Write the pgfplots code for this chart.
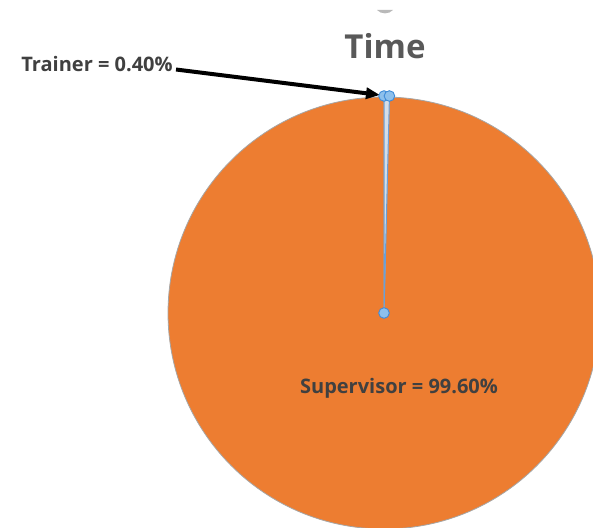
\documentclass[border=0pt]{standalone}
\usepackage{pgfplots}
\pgfplotsset{compat=1.18}
\usepackage{pgfplotstable}
\usepackage{fontspec}
\setmainfont{Open Sans}
\usetikzlibrary{arrows.meta}
\definecolor{pieorange}{HTML}{ED7D31}
\definecolor{slicegray}{HTML}{D5DEE8}
\definecolor{selblue}{HTML}{6A9FD8}
\definecolor{handlefill}{HTML}{8DC0EC}
\definecolor{handleedge}{HTML}{3E8BD8}
\definecolor{titlegray}{HTML}{595959}
\definecolor{labelgray}{HTML}{404040}
\pgfplotstableread{
label value
Trainer 0.40
Supervisor 99.60
}\piedata
\begin{document}
\begin{tikzpicture}
\pgfplotstablegetelem{0}{value}\of\piedata \let\vA\pgfplotsretval
\pgfplotstablegetelem{1}{value}\of\piedata \let\vB\pgfplotsretval
\pgfmathsetmacro{\aStart}{90}
\pgfmathsetmacro{\aMid}{90-3.6*\vA}
\pgfmathsetmacro{\aEnd}{\aMid-3.6*\vB}
\pgfmathsetmacro{\hx}{384+216*cos(\aMid)}
\pgfmathsetmacro{\hy}{214+216*sin(\aMid)}
\begin{axis}[
  x=1pt, y=1pt,
  xmin=0, xmax=593, ymin=0, ymax=527,
  hide axis,
  clip=true,
]
% Supervisor slice
\fill[pieorange, draw=gray!70, line width=0.8pt]
  (axis cs:384,214) -- ++(\aMid:216pt) arc[start angle=\aMid, end angle=\aEnd, radius=216pt] -- cycle;
% Trainer slice
\fill[slicegray, draw=selblue, line width=1pt]
  (axis cs:384,214) -- ++(\aStart:216pt) arc[start angle=\aStart, end angle=\aMid, radius=216pt] -- cycle;
% selection handles
\addplot[only marks, mark=*, mark size=5.3pt, mark options={fill=handlefill, draw=handleedge, line width=0.9pt}]
  coordinates {(384,214) (384,431) (\hx,431)};
% arrow
\draw[-{Triangle[length=14pt,width=11pt]}, line width=4pt, black]
  (axis cs:176,457.5) -- (axis cs:380,432);
% small grey mark at top
\fill[gray!55] (axis cs:377,517) .. controls (axis cs:381,512.5) and (axis cs:389,512.5) .. (axis cs:393,517) -- cycle;
% texts
\node[font=\bfseries\fontsize{33}{33}\selectfont, text=titlegray] at (axis cs:385,481) {Time};
\node[font=\bfseries\fontsize{20}{20}\selectfont, text=labelgray] at (axis cs:97,463) {Trainer = 0.40\%};
\node[font=\bfseries\fontsize{20}{20}\selectfont, text=labelgray] at (axis cs:399,139) {Supervisor = 99.60\%};
\end{axis}
\pgfresetboundingbox
\path (current axis.south west) rectangle (current axis.north east);
\end{tikzpicture}
\end{document}
